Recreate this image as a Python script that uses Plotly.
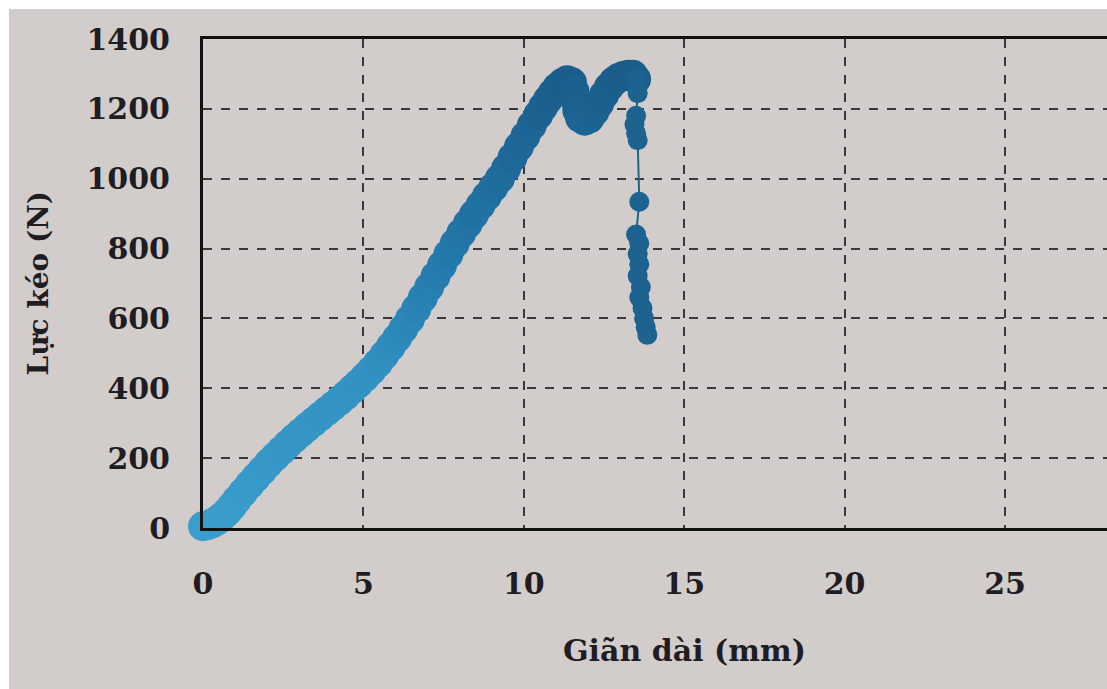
import plotly.graph_objects as go

# Tensile test record: elongation (mm) vs. pulling force (N)
# Loading branch up to the maximum force
load_x = [0.00, 0.15, 0.30, 0.45, 0.60, 0.75, 0.90, 1.05, 1.25, 1.45, 1.65, 1.85,
          2.05, 2.25, 2.45, 2.65, 2.85, 3.05, 3.25, 3.45, 3.65, 3.85, 4.05, 4.25,
          4.45, 4.65, 4.85, 5.05, 5.25, 5.45, 5.65, 5.85, 6.05, 6.25, 6.45, 6.65,
          6.85, 7.05, 7.25, 7.45, 7.65, 7.85, 8.05, 8.25, 8.45, 8.65, 8.85, 9.05,
          9.25, 9.45, 9.65, 9.85, 10.05, 10.25, 10.45, 10.60, 10.75, 10.90, 11.05,
          11.20, 11.35, 11.50, 11.58, 11.63, 11.67, 11.75, 11.90, 12.05, 12.20,
          12.35, 12.50, 12.65, 12.80, 12.95, 13.10, 13.25, 13.40, 13.50]
load_y = [5, 8, 14, 22, 33, 46, 62, 80, 102, 124, 145, 165,
          186, 204, 222, 240, 257, 273, 289, 304, 319, 334, 349, 364,
          380, 397, 414, 432, 451, 472, 495, 519, 544, 571, 598, 628,
          659, 690, 721, 752, 784, 815, 844, 871, 898, 924, 950, 975,
          1000, 1030, 1061, 1092, 1122, 1153, 1183, 1205, 1226, 1245, 1262,
          1274, 1282, 1276, 1250, 1222, 1195, 1175, 1166, 1173, 1192,
          1215, 1240, 1262, 1278, 1288, 1294, 1298, 1298, 1285]

# Fracture branch: force collapses at nearly constant elongation
break_x = [13.50, 13.55, 13.50, 13.45, 13.50, 13.55, 13.60, 13.50, 13.60, 13.55,
           13.60, 13.55, 13.65, 13.60, 13.70, 13.75, 13.80, 13.85]
break_y = [1285, 1245, 1180, 1155, 1130, 1110, 934, 840, 815, 785,
           755, 722, 690, 660, 630, 600, 575, 553]

x_ticks = [0, 5, 10, 15, 20, 25]
y_ticks = [0, 200, 400, 600, 800, 1000, 1200, 1400]

W, H = 1107, 689
L, R, T, B = 203, 0, 39, 161
PW, PH = W - L - R, H - T - B

FONT = "DejaVu Serif"
INK = "#1f1d22"
GRID = "#3a3838"
BG = "#d2cccb"

fig = go.Figure()

fig.add_trace(go.Scatter(
    x=load_x, y=load_y, mode="markers", cliponaxis=False, showlegend=False,
    marker=dict(size=30, color=load_y, cmin=0, cmax=1300, showscale=False,
                colorscale=[[0, "#3a9dcb"], [0.35, "#3291c3"], [0.6, "#2479ab"],
                            [0.85, "#1d6797"], [1, "#1a5d8b"]],
                line=dict(width=0)),
))
fig.add_trace(go.Scatter(
    x=break_x, y=break_y, mode="lines+markers", cliponaxis=False, showlegend=False,
    line=dict(color="#1d6390", width=2),
    marker=dict(size=20, color="#1d6390", line=dict(width=0)),
))

# Photo-print backdrop with a thin white margin on the top and left
def px_to_paper_x(px):
    return (px - L) / PW

def px_to_paper_y(py):
    return (H - B - py) / PH

fig.add_shape(type="rect", xref="paper", yref="paper", layer="below",
              x0=px_to_paper_x(9), x1=px_to_paper_x(W + 2),
              y0=px_to_paper_y(H + 2), y1=px_to_paper_y(9),
              fillcolor=BG, line=dict(width=0))

fig.update_xaxes(
    range=[0, (PW) / 32.08], tickvals=x_ticks, ticktext=[str(v) for v in x_ticks],
    showline=True, linecolor="#111", linewidth=2.5, mirror=True,
    showgrid=True, gridcolor=GRID, gridwidth=2, griddash="9px,9px",
    zeroline=False, ticks="", ticklabelstandoff=27,
    tickfont=dict(family=FONT, size=30, color=INK, weight="bold"),
)
fig.update_yaxes(
    range=[0, 1400], tickvals=y_ticks, ticktext=[str(v) for v in y_ticks],
    showline=True, linecolor="#111", linewidth=3, mirror=False,
    showgrid=True, gridcolor=GRID, gridwidth=2, griddash="9px,9px",
    zeroline=False, ticks="", ticklabelstandoff=24,
    tickfont=dict(family=FONT, size=30, color=INK, weight="bold"),
)

fig.add_annotation(text="Giãn dài (mm)", xref="x", x=15, yref="paper", y=0,
                   yanchor="middle", yshift=-122, showarrow=False,
                   font=dict(family=FONT, size=30, color=INK, weight="bold"))
fig.add_annotation(text="Lực kéo (N)", xref="paper", x=0, xshift=38 - L,
                   yref="y", y=700, textangle=-90, showarrow=False,
                   xanchor="center", yanchor="middle",
                   font=dict(family=FONT, size=28, color=INK, weight="bold"))

fig.update_layout(
    width=W, height=H, margin=dict(l=L, r=R, t=T, b=B, pad=0),
    paper_bgcolor="white", plot_bgcolor="rgba(0,0,0,0)",
)

fig.write_html("out.html")
